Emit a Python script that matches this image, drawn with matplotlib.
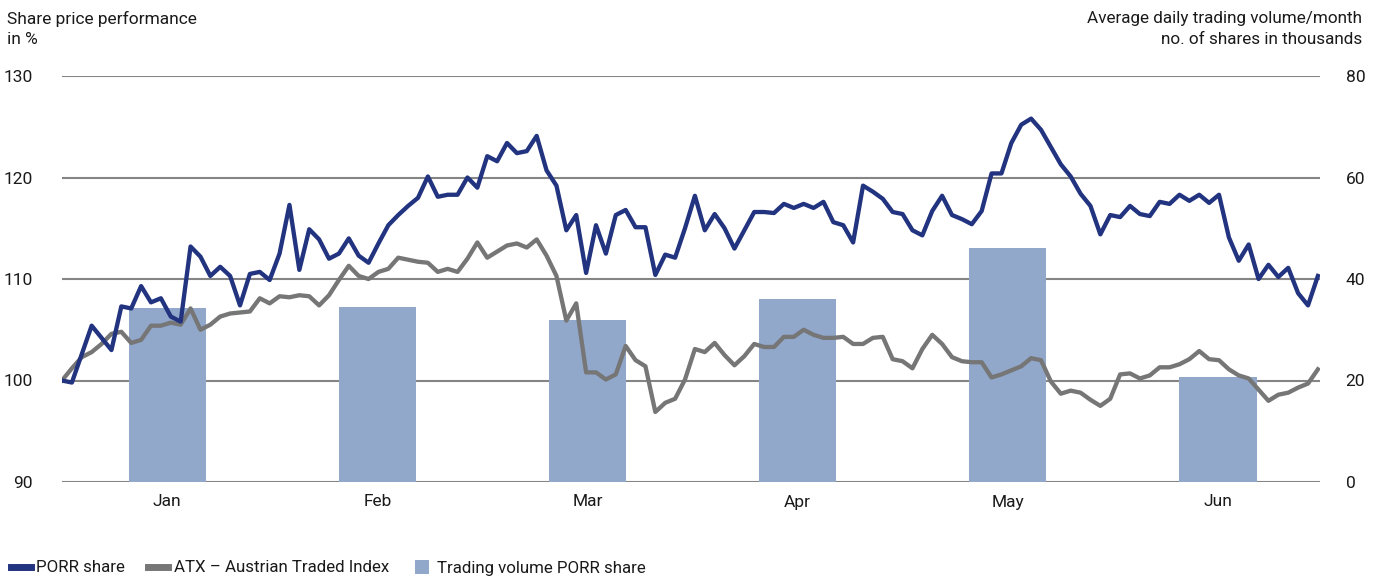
import matplotlib
matplotlib.use('Agg')
import matplotlib.pyplot as plt
import numpy as np
from matplotlib.lines import Line2D

months = ['Jan', 'Feb', 'Mar', 'Apr', 'May', 'Jun']
volume = [34.3, 34.5, 31.9, 36.1, 46.1, 20.7]

porr = [100.0, 99.8, 102.6, 105.4, 104.2, 103.0, 107.3, 107.1, 109.3, 107.7,
        108.1, 106.3, 105.8, 113.2, 112.2, 110.3, 111.2, 110.3, 107.4, 110.5,
        110.7, 109.9, 112.5, 117.3, 110.9, 114.9, 113.9, 112.0, 112.5, 114.0,
        112.3, 111.6, 113.5, 115.3, 116.3, 117.2, 118.0, 120.1, 118.1, 118.3,
        118.3, 120.0, 119.0, 122.1, 121.6, 123.4, 122.4, 122.6, 124.1, 120.7,
        119.2, 114.8, 116.3, 110.6, 115.3, 112.5, 116.3, 116.8, 115.1, 115.1,
        110.4, 112.4, 112.1, 115.0, 118.2, 114.8, 116.4, 115.0, 113.0, 114.8,
        116.6, 116.6, 116.5, 117.4, 117.0, 117.4, 117.0, 117.6, 115.6, 115.3,
        113.6, 119.2, 118.6, 117.9, 116.6, 116.4, 114.8, 114.3, 116.7, 118.2,
        116.3, 115.9, 115.4, 116.7, 120.4, 120.4, 123.4, 125.2, 125.8, 124.7,
        123.0, 121.3, 120.1, 118.4, 117.2, 114.4, 116.3, 116.1, 117.2, 116.4,
        116.2, 117.6, 117.4, 118.3, 117.7, 118.3, 117.5, 118.3, 114.1, 111.8,
        113.4, 110.0, 111.4, 110.2, 111.1, 108.6, 107.4, 110.3]

atx = [100.0, 101.2, 102.3, 102.8, 103.6, 104.6, 104.8, 103.7, 104.0, 105.4,
       105.4, 105.7, 105.5, 107.1, 105.0, 105.5, 106.3, 106.6, 106.7, 106.8,
       108.1, 107.6, 108.3, 108.2, 108.4, 108.3, 107.4, 108.4, 109.9, 111.3,
       110.3, 110.0, 110.7, 111.0, 112.1, 111.9, 111.7, 111.6, 110.7, 111.0,
       110.7, 112.0, 113.6, 112.1, 112.7, 113.3, 113.5, 113.1, 113.9, 112.3,
       110.3, 105.9, 107.6, 100.8, 100.8, 100.1, 100.6, 103.4, 102.0, 101.4,
       96.9, 97.8, 98.2, 100.1, 103.1, 102.8, 103.7, 102.5, 101.5, 102.4,
       103.6, 103.3, 103.3, 104.3, 104.3, 105.0, 104.5, 104.2, 104.2, 104.3,
       103.6, 103.6, 104.2, 104.3, 102.1, 101.9, 101.2, 103.1, 104.5, 103.6,
       102.3, 101.9, 101.8, 101.8, 100.3, 100.6, 101.0, 101.4, 102.2, 102.0,
       99.9, 98.7, 99.0, 98.8, 98.1, 97.5, 98.2, 100.6, 100.7, 100.2,
       100.5, 101.3, 101.3, 101.6, 102.1, 102.9, 102.1, 102.0, 101.1, 100.5,
       100.2, 99.1, 98.0, 98.6, 98.8, 99.3, 99.7, 101.1]

left_ticks = [90, 100, 110, 120, 130]
right_ticks = [0, 20, 40, 60, 80]

BLUE = '#22337f'
GRAY = '#767676'
BAR = '#92a8cb'
GRID = '#858585'
TXT = '#1a1a1a'

plt.rcParams['font.family'] = ['Roboto', 'DejaVu Sans']
FS = 12.5

W, H = 1384, 577
fig = plt.figure(figsize=(W / 100, H / 100), dpi=100)
rect = [62 / W, 1 - 482 / H, (1320 - 62) / W, (482 - 76) / H]
ax2 = fig.add_axes(rect)             # bars + grid, right scale
ax = fig.add_axes(rect, sharex=ax2)  # lines, left scale
ax.patch.set_visible(False)

xm = np.arange(len(months))
ax2.bar(xm, volume, width=0.367, color=BAR, zorder=2, label='Trading volume PORR share')
ax2.set_ylim(0, 80)
ax2.set_yticks(right_ticks)
ax2.yaxis.tick_right()
ax2.grid(axis='y', color=GRID, lw=1.5, zorder=0)
ax2.set_axisbelow(True)

xd = np.linspace(-0.5, 5.475, len(porr))
ax.plot(xd, atx, color=GRAY, lw=3.1, label='ATX – Austrian Traded Index', zorder=3)
ax.plot(xd, porr, color=BLUE, lw=3.1, label='PORR share', zorder=4)
ax.set_ylim(90, 130)
ax.set_yticks(left_ticks)
ax.set_xlim(-0.5, 5.485)
ax.set_xticks(xm)
ax.set_xticklabels(months)

for a in (ax, ax2):
    for s in a.spines.values():
        s.set_visible(False)
ax.tick_params(axis='both', length=0, labelsize=FS, colors=TXT)
ax.tick_params(axis='x', pad=9)
ax.tick_params(axis='y', pad=21)
ax2.tick_params(axis='both', length=0, labelsize=FS, colors=TXT)
ax2.tick_params(axis='y', pad=18.5)
ax2.tick_params(axis='x', labelbottom=False)
for lab in ax2.get_yticklabels():
    lab.set_ha('left')

fig.text(7 / W, 1 - 19 / H, 'Share price performance', fontsize=FS, color=TXT, ha='left', va='center')
fig.text(7 / W, 1 - 40 / H, 'in %', fontsize=FS, color=TXT, ha='left', va='center')
fig.text(1362 / W, 1 - 19 / H, 'Average daily trading volume/month', fontsize=12.3, color=TXT, ha='right', va='center')
fig.text(1362 / W, 1 - 40 / H, 'no. of shares in thousands', fontsize=12.3, color=TXT, ha='right', va='center')

handles = [Line2D([], [], color=BLUE, lw=5),
           Line2D([], [], color=GRAY, lw=5),
           Line2D([], [], ls='none', marker='s', markersize=10, color=BAR, markeredgewidth=0)]
labels = ['PORR share', 'ATX – Austrian Traded Index', 'Trading volume PORR share']
fig.legend(handles, labels, loc='center left', bbox_to_anchor=(6 / W, 1 - 568 / H),
           ncol=3, frameon=False, fontsize=12.2, handlelength=1.15,
           handletextpad=0.35, columnspacing=1.35, borderaxespad=0, borderpad=0.3,
           labelcolor=TXT)

fig.savefig('out.png', dpi=100)
